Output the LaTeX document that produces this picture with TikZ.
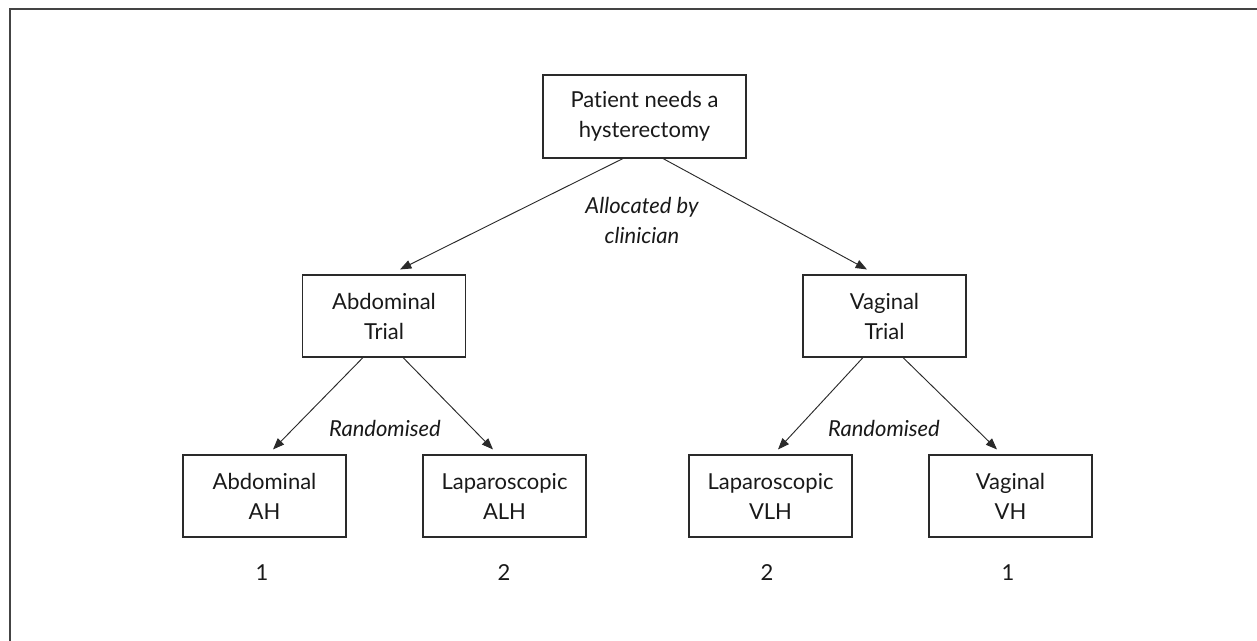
\documentclass[tikz,border=0pt]{standalone}
\usepackage{fontspec}
\setmainfont{Lato}[Ligatures=NoCommon]
\usetikzlibrary{arrows.meta,calc}
\definecolor{framegray}{HTML}{444444}
\definecolor{linegray}{HTML}{2A2A2A}
\tikzset{
  box/.style={draw=linegray, line width=0.8pt, align=center, inner sep=0pt,
    minimum width=122.25pt, minimum height=61.5pt, font=\fontsize{16.5}{22.5}\selectfont, text=black!90},
  topbox/.style={box, minimum width=152.25pt, minimum height=62.25pt},
  conn/.style={draw=linegray, line width=0.7pt, -{Triangle[length=8.5pt,width=6.5pt]}},
  lbl/.style={align=center, inner sep=0pt, font=\fontsize{16.5}{22.5}\selectfont\itshape, text=black!90},
  num/.style={inner sep=0pt, font=\fontsize{16.5}{22.5}\selectfont, text=black!90}
}
\begin{document}
\begin{tikzpicture}[x=0.75pt,y=-0.75pt]
\useasboundingbox (0,0) rectangle (1257,641);
\coordinate (fbl) at (10,641);
\coordinate (ftl) at (10,9);
\coordinate (ftr) at (1257,9);
\draw[framegray, line width=1.6pt] (fbl) -- (ftl) -- (ftr);

\node[topbox] (top) at (644.5,116.5) {Patient needs a\\hysterectomy};
\node[box] (abd) at (384,316) {Abdominal\\Trial};
\node[box] (vag) at (884.5,316) {Vaginal\\Trial};
\node[box] (ah) at (264.5,496) {Abdominal\\AH};
\node[box] (alh) at (504.5,496) {Laparoscopic\\ALH};
\node[box] (vlh) at (770.5,496) {Laparoscopic\\VLH};
\node[box] (vh) at (1010.5,496) {Vaginal\\VH};

\node[lbl] (alloc) at (642,220) {Allocated by\\clinician};
\node[lbl] (rand1) at (385,428) {Randomised};
\node[lbl] (rand2) at (884,428) {Randomised};

\node[num] (n1) at (262,573) {1};
\node[num] (n2) at (504,573) {2};
\node[num] (n3) at (767,573) {2};
\node[num] (n4) at (1008,573) {1};

\draw[conn] ($(top.south)+(-21.5,0)$) -- ($(abd.north)+(16,-5)$);
\draw[conn] ($(top.south)+(18.5,0)$) -- ($(vag.north)+(-17.5,-5)$);
\draw[conn] ($(abd.south)+(-21,0)$) -- ($(ah.north)+(8.5,-5)$);
\draw[conn] ($(abd.south)+(19,0)$) -- ($(alh.north)+(-11.5,-5)$);
\draw[conn] ($(vag.south)+(-21.5,0)$) -- ($(vlh.north)+(7.5,-5)$);
\draw[conn] ($(vag.south)+(18.5,0)$) -- ($(vh.north)+(-13.5,-5)$);
\end{tikzpicture}
\end{document}
